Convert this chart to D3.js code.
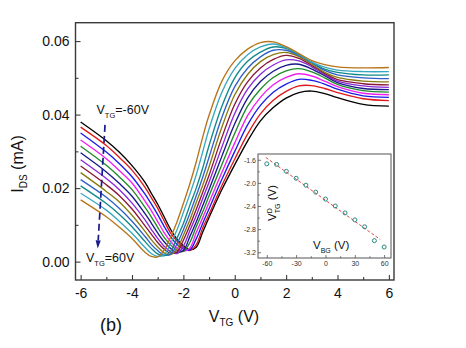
<!DOCTYPE html>
<html><head><meta charset="utf-8">
<script src="https://cdn.jsdelivr.net/npm/d3@7"></script>
<style>body{margin:0;background:#fff}svg{display:block}</style>
</head><body><svg id="c" width="466" height="348"></svg>
<script>
// ---------- data ----------
const vtg = [-6,-5,-4.5,-4,-3.5,-3.25,-3,-2.75,-2.5,-2.25,-2,-1.75,-1.5,-1.25,-1,-0.5,0,0.5,1,1.5,2,2.5,3,3.5,4,5,6];
const ids_m60 = [0.0380,0.0329,0.0298,0.0261,0.0216,0.0186,0.0156,0.0122,0.0088,0.0061,0.0043,0.0032,0.0039,0.0080,0.0120,0.0196,0.0264,0.0328,0.0383,0.0419,0.0445,0.0460,0.0464,0.0457,0.0446,0.0428,0.0423];
const ids_m50 = [0.0366,0.0316,0.0284,0.0249,0.0203,0.0174,0.0145,0.0111,0.0078,0.0056,0.0038,0.0030,0.0046,0.0091,0.0129,0.0207,0.0279,0.0347,0.0402,0.0439,0.0463,0.0478,0.0479,0.0471,0.0460,0.0443,0.0438];
const ids_m40 = [0.0350,0.0298,0.0267,0.0231,0.0184,0.0157,0.0128,0.0096,0.0068,0.0047,0.0034,0.0032,0.0062,0.0104,0.0144,0.0224,0.0300,0.0372,0.0425,0.0461,0.0483,0.0496,0.0493,0.0483,0.0469,0.0451,0.0447];
const ids_m30 = [0.0331,0.0280,0.0248,0.0214,0.0165,0.0139,0.0109,0.0079,0.0055,0.0037,0.0028,0.0037,0.0079,0.0119,0.0161,0.0243,0.0323,0.0397,0.0447,0.0481,0.0501,0.0511,0.0505,0.0491,0.0476,0.0458,0.0454];
const ids_m20 = [0.0314,0.0262,0.0231,0.0196,0.0148,0.0122,0.0093,0.0066,0.0046,0.0031,0.0028,0.0052,0.0095,0.0135,0.0179,0.0264,0.0349,0.0423,0.0469,0.0501,0.0519,0.0525,0.0516,0.0500,0.0482,0.0465,0.0461];
const ids_m10 = [0.0296,0.0244,0.0213,0.0178,0.0131,0.0105,0.0078,0.0054,0.0036,0.0025,0.0030,0.0068,0.0108,0.0152,0.0196,0.0287,0.0375,0.0445,0.0490,0.0518,0.0534,0.0537,0.0524,0.0506,0.0487,0.0471,0.0468];
const ids_0   = [0.0277,0.0226,0.0196,0.0159,0.0114,0.0088,0.0063,0.0042,0.0027,0.0022,0.0042,0.0084,0.0125,0.0171,0.0216,0.0312,0.0403,0.0469,0.0510,0.0535,0.0549,0.0546,0.0530,0.0509,0.0491,0.0478,0.0474];
const ids_p10 = [0.0260,0.0209,0.0180,0.0143,0.0098,0.0075,0.0052,0.0034,0.0023,0.0026,0.0058,0.0098,0.0142,0.0188,0.0235,0.0338,0.0428,0.0489,0.0527,0.0550,0.0561,0.0553,0.0534,0.0512,0.0495,0.0484,0.0481];
const ids_p20 = [0.0242,0.0191,0.0163,0.0126,0.0083,0.0060,0.0040,0.0024,0.0019,0.0034,0.0072,0.0113,0.0161,0.0207,0.0258,0.0366,0.0454,0.0509,0.0544,0.0563,0.0569,0.0558,0.0537,0.0515,0.0501,0.0491,0.0489];
const ids_p30 = [0.0223,0.0175,0.0145,0.0110,0.0069,0.0047,0.0030,0.0018,0.0020,0.0048,0.0087,0.0131,0.0179,0.0229,0.0284,0.0393,0.0476,0.0526,0.0557,0.0575,0.0575,0.0561,0.0541,0.0520,0.0508,0.0500,0.0498];
const ids_p40 = [0.0206,0.0158,0.0129,0.0095,0.0055,0.0036,0.0021,0.0016,0.0028,0.0064,0.0104,0.0153,0.0200,0.0254,0.0316,0.0423,0.0500,0.0545,0.0570,0.0584,0.0580,0.0563,0.0542,0.0524,0.0515,0.0508,0.0508];
const ids_p50 = [0.0186,0.0140,0.0110,0.0077,0.0039,0.0022,0.0014,0.0019,0.0049,0.0086,0.0134,0.0183,0.0236,0.0298,0.0361,0.0461,0.0525,0.0563,0.0584,0.0592,0.0582,0.0564,0.0543,0.0529,0.0521,0.0517,0.0517];
const ids_p60 = [0.0168,0.0122,0.0094,0.0063,0.0026,0.0014,0.0013,0.0031,0.0066,0.0108,0.0158,0.0211,0.0271,0.0338,0.0398,0.0491,0.0546,0.0578,0.0596,0.0598,0.0585,0.0566,0.0547,0.0536,0.0530,0.0527,0.0528];
const series = [ids_m60,ids_m50,ids_m40,ids_m30,ids_m20,ids_m10,ids_0,ids_p10,ids_p20,ids_p30,ids_p40,ids_p50,ids_p60];
const curveColors = ["#000000","#e01818","#1c1ce8","#f020f0","#208a28","#18188a","#8a28d8","#8a1838","#8a7a10","#3060c8","#108888","#38a8c0","#b87418"];

const xMajor = [-6,-4,-2,0,2,4,6], xMinor = [-5,-3,-1,1,3,5];
const yMajor = [0,0.02,0.04,0.06], yMinor = [0.01,0.03,0.05];

const insetVbg = [-60,-50,-40,-30,-20,-10,0,10,20,30,40,50,60];
const insetVd  = [-1.67,-1.68,-1.80,-1.92,-2.04,-2.16,-2.28,-2.40,-2.52,-2.64,-2.76,-3.00,-3.11];
const fitVbg = [-61,56];
const fitVd  = [-1.56,-2.98];
const insetXTicks = [-60,-30,0,30,60], insetXMinor = [-45,-15,15,45];
const insetYTicks = [-1.6,-2.0,-2.4,-2.8,-3.2], insetYMinor = [-1.8,-2.2,-2.6,-3.0];

// ---------- layout ----------
const FONT = "'Liberation Sans', Arial, Helvetica, sans-serif";
const svg = d3.select("#c");
svg.append("rect").attr("width",466).attr("height",348).attr("fill","#fff");
const L=75.5, R=394, T=22.7, B=280;
const x = d3.scaleLinear().domain([-6.2,6.2]).range([L,R]);
const y = d3.scaleLinear().domain([-0.005,0.065]).range([B,T]);
const hy = s => s.replace(/\u2212/g,"-");

// curves
const line = d3.line().x((d,i)=>x(vtg[i])).y(d=>y(d)).curve(d3.curveCatmullRom.alpha(0.5));
const cg = svg.append("g");
series.forEach((s,k)=>{
  cg.append("path").attr("d",line(s)).attr("fill","none")
    .attr("stroke",curveColors[k]).attr("stroke-width",1.35);
});

// frame
svg.append("rect").attr("x",L).attr("y",T).attr("width",R-L).attr("height",B-T)
  .attr("fill","none").attr("stroke","#3a3a3a").attr("stroke-width",1.4);

function styleAxis(g,fs){
  g.select(".domain").remove();
  g.selectAll("line").attr("stroke","#3a3a3a").attr("stroke-width",1.1);
  g.selectAll("text").attr("font-family",FONT).attr("font-size",fs).attr("fill","#111");
}
svg.append("g").attr("transform",`translate(0,${B})`)
  .call(d3.axisBottom(x).tickValues(xMajor).tickSize(-5).tickPadding(8).tickFormat(d=>hy(d3.format("d")(d))))
  .call(g=>styleAxis(g,14));
svg.append("g").attr("transform",`translate(0,${B})`)
  .call(d3.axisBottom(x).tickValues(xMinor).tickSize(-3).tickFormat(""))
  .call(g=>styleAxis(g,14));
svg.append("g").attr("transform",`translate(${L},0)`)
  .call(d3.axisLeft(y).tickValues(yMajor).tickSize(-5).tickPadding(6).tickFormat(d3.format(".2f")))
  .call(g=>styleAxis(g,14));
svg.append("g").attr("transform",`translate(${L},0)`)
  .call(d3.axisLeft(y).tickValues(yMinor).tickSize(-3).tickFormat(""))
  .call(g=>styleAxis(g,14));

// axis titles
const yt = svg.append("text").attr("transform","translate(23,164) rotate(-90)")
  .attr("text-anchor","middle").attr("font-family",FONT).attr("font-size",16).attr("fill","#111");
yt.append("tspan").text("I");
yt.append("tspan").attr("font-size",10).attr("dy",4).text("DS");
yt.append("tspan").attr("dy",-4).text(" (mA)");

const xt = svg.append("text").attr("x",234).attr("y",322)
  .attr("text-anchor","middle").attr("font-family",FONT).attr("font-size",16).attr("fill","#111");
xt.append("tspan").text("V");
xt.append("tspan").attr("font-size",10).attr("dy",4).text("TG");
xt.append("tspan").attr("dy",-4).text(" (V)");

svg.append("text").attr("x",111).attr("y",331).attr("text-anchor","middle")
  .attr("font-family",FONT).attr("font-size",18).attr("fill","#111").text("(b)");

// annotations
function vtgLabel(px,py,rest){
  const t = svg.append("text").attr("x",px).attr("y",py).attr("font-family",FONT)
    .attr("font-size",12.5).attr("fill","#111");
  t.append("tspan").text("V");
  t.append("tspan").attr("font-size",7.5).attr("dy",4).text("TG");
  t.append("tspan").attr("dy",-4).text(rest);
}
vtgLabel(96.5,114,"=-60V");
vtgLabel(86,262,"=60V");

const ax0=x(-5.05), ay0=y(0.0372), ax1=x(-5.335), ay1=y(0.0036);
const ang = Math.atan2(ay1-ay0, ax1-ax0);
const ex = ax1 - 8*Math.cos(ang), ey = ay1 - 8*Math.sin(ang);
svg.append("line").attr("x1",ax0).attr("y1",ay0).attr("x2",ex).attr("y2",ey)
  .attr("stroke","#1a1a8c").attr("stroke-width",1.7).attr("stroke-dasharray","7,4");
const px=-Math.sin(ang), py=Math.cos(ang);
svg.append("path").attr("d",`M${ax1},${ay1}L${ex+2.6*px},${ey+2.6*py}L${ex-2.6*px},${ey-2.6*py}Z`)
  .attr("fill","#1a1a8c");

// ---------- inset ----------
const IL=258, IR=391, IT=154, IB=258;
const ix = d3.scaleLinear().domain([-69,67]).range([IL,IR]);
const iy = d3.scaleLinear().domain([-3.3,-1.5]).range([IB,IT]);
svg.append("rect").attr("x",IL).attr("y",IT).attr("width",IR-IL).attr("height",IB-IT)
  .attr("fill","#fff").attr("stroke","#555").attr("stroke-width",1);
function styleInset(g){
  g.select(".domain").remove();
  g.selectAll("line").attr("stroke","#555").attr("stroke-width",0.8);
  g.selectAll("text").attr("font-family",FONT).attr("font-size",7).attr("fill","#333");
}
svg.append("g").attr("transform",`translate(0,${IB})`)
  .call(d3.axisBottom(ix).tickValues(insetXTicks).tickSize(-3).tickPadding(3).tickFormat(d=>hy(d3.format("d")(d))))
  .call(styleInset);
svg.append("g").attr("transform",`translate(0,${IB})`)
  .call(d3.axisBottom(ix).tickValues(insetXMinor).tickSize(-1.8).tickFormat(""))
  .call(styleInset);
svg.append("g").attr("transform",`translate(${IL},0)`)
  .call(d3.axisLeft(iy).tickValues(insetYTicks).tickSize(-3).tickPadding(2).tickFormat(d=>hy(d3.format(".1f")(d))))
  .call(styleInset);
svg.append("g").attr("transform",`translate(${IL},0)`)
  .call(d3.axisLeft(iy).tickValues(insetYMinor).tickSize(-1.8).tickFormat(""))
  .call(styleInset);

svg.append("line").attr("x1",ix(fitVbg[0])).attr("y1",iy(fitVd[0]))
  .attr("x2",ix(fitVbg[1])).attr("y2",iy(fitVd[1]))
  .attr("stroke","#e04848").attr("stroke-width",1).attr("stroke-dasharray","3,2");
svg.append("g").selectAll("circle").data(insetVd).join("circle")
  .attr("cx",(d,i)=>ix(insetVbg[i])).attr("cy",d=>iy(d)).attr("r",2)
  .attr("fill","none").attr("stroke","#2a8a80").attr("stroke-width",1);

// inset titles
const iyt = svg.append("text").attr("transform","translate(276,203) rotate(-90)")
  .attr("text-anchor","middle").attr("font-family",FONT).attr("font-size",11.5).attr("fill","#111");
iyt.append("tspan").text("V");
iyt.append("tspan").attr("font-size",7).attr("dy",-4.5).text("D");
iyt.append("tspan").attr("font-size",7).attr("dx",-5).attr("dy",8).text("TG");
iyt.append("tspan").attr("dy",-3.5).text(" (V)");

const ixt = svg.append("text").attr("x",313).attr("y",249).attr("font-family",FONT)
  .attr("font-size",11.5).attr("fill","#111");
ixt.append("tspan").text("V");
ixt.append("tspan").attr("font-size",7).attr("dy",3.5).text("BG");
ixt.append("tspan").attr("dy",-3.5).text(" (V)");
</script></body></html>
